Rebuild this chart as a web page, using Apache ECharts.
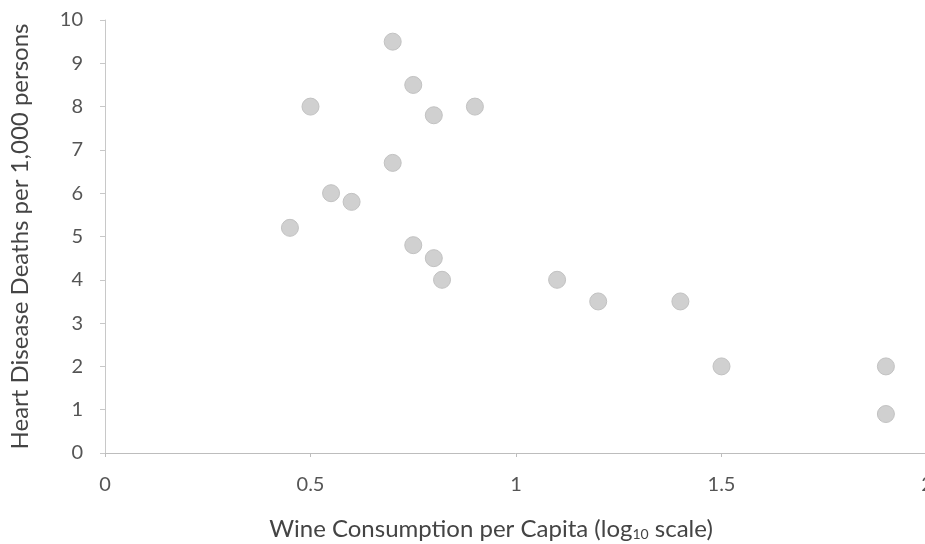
<!DOCTYPE html>
<html><head><meta charset="utf-8">
<script src="https://cdn.jsdelivr.net/npm/echarts@6/dist/echarts.min.js"></script>
<style>html,body{margin:0;padding:0;background:#fff}#c{width:925px;height:544px}</style>
</head><body><div id="c"></div>
<script>
const wineLog = [0.45, 0.50, 0.55, 0.60, 0.70, 0.70, 0.75, 0.75, 0.80, 0.80, 0.82, 0.90, 1.10, 1.20, 1.40, 1.50, 1.90, 1.90];
const deaths  = [5.2, 8.0, 6.0, 5.8, 9.5, 6.7, 8.5, 4.8, 7.8, 4.5, 4.0, 8.0, 4.0, 3.5, 3.5, 2.0, 2.0, 0.9];
const xTicks = [0, 0.5, 1, 1.5, 2];
const yTicks = [0,1,2,3,4,5,6,7,8,9,10];
const xTitle = 'Wine Consumption per Capita (log{sub|10} scale)';
const yTitle = 'Heart Disease Deaths per 1,000 persons';

const font = 'Lato, "Open Sans", sans-serif';
const chart = echarts.init(document.getElementById('c'), null, {renderer:'canvas'});
chart.setOption({
  animation:false,
  backgroundColor:'#fff',
  grid:{left:105, right:-2, top:20, bottom:91, containLabel:false, outerBoundsMode:'none'},
  xAxis:{
    type:'value', min:xTicks[0], max:xTicks[xTicks.length-1], interval:0.5,
    name:xTitle, nameLocation:'middle', nameGap:64,
    nameTextStyle:{fontFamily:font, fontSize:24, color:'#444', padding:[0,50,0,0],
      rich:{sub:{fontFamily:font, fontSize:14, color:'#444', verticalAlign:'bottom', padding:[10,0,0,0]}}},
    axisLine:{show:true, lineStyle:{color:'#bdbdbd', width:1}},
    axisTick:{show:true, length:4, lineStyle:{color:'#bdbdbd'}},
    axisLabel:{fontFamily:font, fontSize:20, color:'#555', margin:22},
    splitLine:{show:false}
  },
  yAxis:{
    type:'value', min:yTicks[0], max:yTicks[yTicks.length-1], interval:1,
    name:yTitle, nameLocation:'middle', nameGap:73, nameRotate:90,
    nameTextStyle:{fontFamily:font, fontSize:24, color:'#444'},
    axisLine:{show:true, lineStyle:{color:'#c8c8c8', width:1}},
    axisTick:{show:true, length:5, lineStyle:{color:'#c8c8c8'}},
    axisLabel:{fontFamily:font, fontSize:20, color:'#555', margin:22},
    splitLine:{show:false}
  },
  series:[{
    type:'scatter',
    data: wineLog.map((x,i)=>[x, deaths[i]]),
    symbol:'circle', symbolSize:17,
    itemStyle:{color:'#d0d0d0', borderColor:'#c2c2c2', borderWidth:1, opacity:1}
  }]
});
</script></body></html>
